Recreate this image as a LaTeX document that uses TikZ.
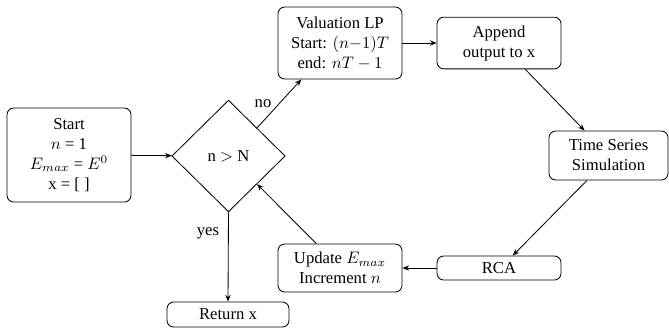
\documentclass[tikz,border=0pt]{standalone}
\usepackage{fontspec}
\setmainfont{Liberation Serif}
\usetikzlibrary{shapes.geometric,arrows.meta,calc}
\begin{document}
\begin{tikzpicture}[x=0.6pt,y=-0.6pt,
  box/.style={draw,rounded corners=4pt,align=center,inner sep=1pt,font=\normalsize},
  decision/.style={draw,diamond,inner sep=0pt,minimum width=68pt,minimum height=67pt},
  flow/.style={-{Stealth[length=4pt,width=3.2pt]},line width=0.5pt},
  every node/.style={line width=0.5pt}]
\useasboundingbox (0,0) rectangle (669,333);

\node[box,minimum width=74.4pt,minimum height=56.4pt] (start) at (69,155)
  {Start\\ $n$ = 1\\ $E_{max}$ = $E^0$\\ x = [ ]};
\node[decision] (dec) at (228.5,156) {n $>$ N};
\node[box,minimum width=74.4pt,minimum height=43.2pt] (val) at (340,43)
  {Valuation LP\\ Start: $(n{-}1)T$\\ end: $nT-1$};
\node[box,minimum width=74.4pt,minimum height=31pt] (app) at (499,43)
  {Append\\ output to x};
\node[box,minimum width=71.4pt,minimum height=29.4pt] (ts) at (608.5,155.5)
  {Time Series\\ Simulation};
\node[box,minimum width=74.4pt,minimum height=14.4pt] (rca) at (499,268) {RCA};
\node[box,minimum width=74.4pt,minimum height=28.8pt] (upd) at (340,268)
  {Update $E_{max}$\\ Increment $n$};
\node[box,minimum width=73.2pt,minimum height=15pt] (ret) at (228,314.5) {Return x};

% branch labels
\node (no) at (263,104) {no};
\node (yes) at (208,233) {yes};

\draw[flow] (start) -- (dec);
\draw[flow] (dec.north east) -- ($(val.south west)!0.19!(val.south east)$);
\draw[flow] (val) -- (app);
\draw[flow] ($(app.south west)!0.71!(app.south east)$) -- ($(ts.north west)!0.3!(ts.north east)$);
\draw[flow] ($(ts.south west)!0.32!(ts.south east)$) -- ($(rca.north west)!0.61!(rca.north east)$);
\draw[flow] (rca) -- (upd);
\draw[flow] ($(upd.north west)!0.31!(upd.north east)$) -- (dec.south east);
\draw[flow] (dec.south) -- (ret.north);
\end{tikzpicture}
\end{document}
